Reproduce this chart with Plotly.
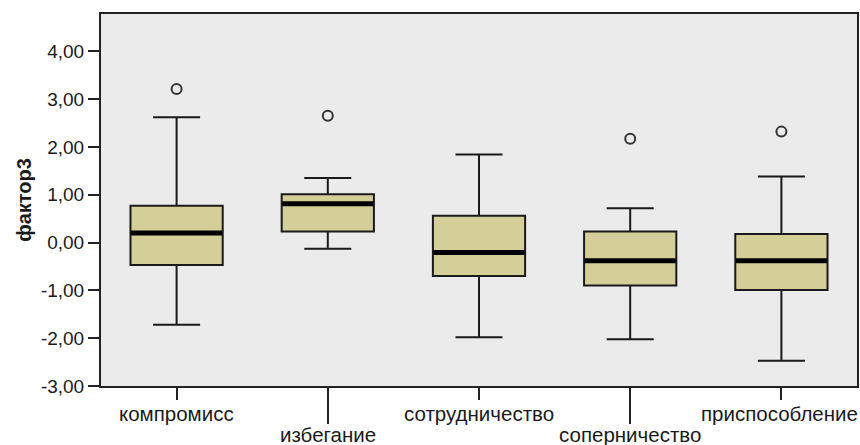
import plotly.graph_objects as go

categories = ["компромисс", "избегание", "сотрудничество", "соперничество", "приспособление"]
lower_whisker = [-1.72, -0.13, -1.98, -2.02, -2.47]
q1_values = [-0.47, 0.23, -0.70, -0.90, -0.99]
median_values = [0.20, 0.81, -0.21, -0.38, -0.38]
q3_values = [0.77, 1.01, 0.56, 0.23, 0.18]
upper_whisker = [2.62, 1.35, 1.84, 0.72, 1.38]
outlier_cats = ["компромисс", "избегание", "соперничество", "приспособление"]
outlier_values = [3.21, 2.65, 2.17, 2.32]
y_tickvals = [-3, -2, -1, 0, 1, 2, 3, 4]
y_ticktext = ["-3,00", "-2,00", "-1,00", "0,00", "1,00", "2,00", "3,00", "4,00"]

idx = list(range(len(categories)))
pos = {c: i for i, c in enumerate(categories)}

fig = go.Figure()
fig.add_trace(go.Box(
    x=idx, q1=q1_values, median=median_values, q3=q3_values,
    lowerfence=lower_whisker, upperfence=upper_whisker,
    fillcolor="#D4CF98", line=dict(color="#1a1a1a", width=2),
    width=0.61, whiskerwidth=0.51, boxpoints=False, hoverinfo="skip",
    showlegend=False,
))
# thick median line
fig.add_trace(go.Scatter(
    x=idx, y=median_values, mode="markers",
    marker=dict(symbol="line-ew", size=65, line=dict(color="black", width=5)),
    showlegend=False, hoverinfo="skip",
))
fig.add_trace(go.Scatter(
    x=[pos[c] for c in outlier_cats], y=outlier_values, mode="markers",
    marker=dict(symbol="circle-open", size=10, color="#333333", line=dict(width=2)),
    showlegend=False, hoverinfo="skip",
))

# category labels, staggered in two rows (as in the source chart)
last = len(categories) - 1
for i, c in enumerate(categories):
    common = dict(text=c, showarrow=False, font=dict(size=20.5), borderpad=0,
                  y=0, yref="paper")
    if i % 2 == 1:
        fig.add_annotation(x=i, xref="x", yanchor="top", yshift=-36, **common)
    elif i == last:
        fig.add_annotation(x=1, xref="paper", xanchor="right", xshift=2,
                           yanchor="middle", yshift=-27, **common)
    else:
        fig.add_annotation(x=i, xref="x", yanchor="middle", yshift=-27, **common)

fig.update_layout(
    width=860, height=445,
    margin=dict(l=101, r=3, t=14, b=59, autoexpand=False),
    paper_bgcolor="white", plot_bgcolor="#EBEBEB",
    font=dict(family="Liberation Sans, Arial", size=19, color="#1a1a1a"),
    xaxis=dict(
        range=[-0.5, 4.5], tickvals=idx, showticklabels=False,
        ticks="outside", ticklen=12, tickwidth=2, tickcolor="#222",
        showline=True, linecolor="#222", linewidth=2, mirror=True,
        showgrid=False, zeroline=False, automargin=False,
    ),
    xaxis2=dict(
        range=[-0.5, 4.5], overlaying="x", side="bottom", tickvals=[1, 3],
        ticks="outside", ticklen=37, tickwidth=2, tickcolor="#222",
        showticklabels=False, showgrid=False, zeroline=False, showline=False,
        anchor="y", automargin=False,
    ),
    yaxis=dict(
        range=[-3.0, 4.78], tickvals=y_tickvals, ticktext=y_ticktext,
        ticks="outside", ticklen=11, tickwidth=2, tickcolor="#222",
        showline=True, linecolor="#222", linewidth=2, mirror=True,
        showgrid=False, zeroline=False, tickfont=dict(size=19),
        title=dict(text="<b>фактор3</b>", font=dict(size=20), standoff=4),
        automargin=False,
    ),
)
fig.add_trace(go.Scatter(x=[None], y=[None], xaxis="x2", showlegend=False))
fig.write_html("out.html", config={"displayModeBar": False},
               post_script="document.body.style.margin='0';")
